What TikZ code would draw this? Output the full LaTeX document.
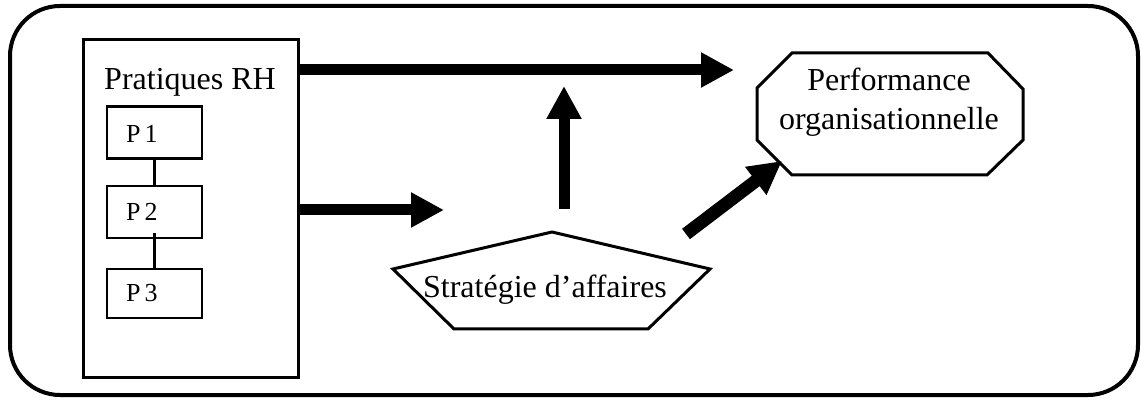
\documentclass[tikz,border=0pt]{standalone}
\usepackage{fontspec}
\setmainfont{Liberation Serif}
\usetikzlibrary{arrows.meta}

\tikzset{
  frame/.style={draw, line width=4pt, rounded corners=50pt},
  holder/.style={draw, line width=3pt, rectangle, inner sep=0pt,
                 minimum width=215pt, minimum height=338pt},
  pbox/.style={draw, line width=2.6pt, rectangle, inner sep=0pt,
               minimum width=95pt, minimum height=52pt},
  plabel/.style={font=\fontsize{26}{30}\selectfont, anchor=base west, inner sep=0pt},
  bigtext/.style={font=\fontsize{32}{38}\selectfont, inner sep=0pt},
  outline/.style={draw, line width=3pt, line join=miter},
  link/.style={line width=2.6pt},
  bigarrow/.style={line width=11pt, -{Triangle[length=33pt, width=33pt]}},
}

\begin{document}
\begin{tikzpicture}[x=1pt, y=-1pt]
\useasboundingbox (0,0) rectangle (1141,403);

% outer rounded frame
\draw[frame] (10,6) rectangle (1138,395);

% HR practices block
\node[holder] (rh) at (190.5,209) {};
\node[bigtext, anchor=base] (rhlabel) at (190,90) {Pratiques RH};
\node[pbox] (p1) at (154.5,132.5) {};
\node[pbox] (p2) at (154.5,212) {};
\node[pbox, minimum height=49pt] (p3) at (154.5,293.5) {};
\node[plabel] (p1t) at (126,143) {P\kern4pt1};
\node[plabel] (p2t) at (126,221) {P\kern4pt2};
\node[plabel] (p3t) at (126,302) {P\kern4pt3};
\draw[link] (p1.south) -- (p2.north);
\draw[link] ([yshift=6pt]p2.south) -- (p3.north);

% business strategy pentagon
\coordinate (sa1) at (552,232);
\coordinate (sa2) at (710,269);
\coordinate (sa3) at (648,329);
\coordinate (sa4) at (454,329);
\coordinate (sa5) at (393,269);
\draw[outline] (sa1) -- (sa2) -- (sa3) -- (sa4) -- (sa5) -- cycle;
\node[bigtext, anchor=base] (strat) at (545,298) {Stratégie d’affaires};

% organisational performance octagon
\coordinate (op1) at (792,53);
\coordinate (op2) at (988,53);
\coordinate (op3) at (1023,89);
\coordinate (op4) at (1023,140);
\coordinate (op5) at (987,175);
\coordinate (op6) at (792,175);
\coordinate (op7) at (757,140);
\coordinate (op8) at (757,88);
\draw[outline] (op1) -- (op2) -- (op3) -- (op4) -- (op5) -- (op6) -- (op7) -- (op8) -- cycle;
\node[bigtext, anchor=base] (perf1) at (889,91) {Performance};
\node[bigtext, anchor=base] (perf2) at (889,130) {organisationnelle};

% connectors
\coordinate (topend) at (734,70);
\coordinate (midend) at (444,210);
\coordinate (upstart) at (564,209);
\coordinate (upend) at (564,86);
\coordinate (diagstart) at (686,234);
\coordinate (diagend) at (782,161);

\draw[bigarrow] (rh.east |- topend) -- (topend);
\draw[bigarrow] (rh.east |- midend) -- (midend);
\draw[bigarrow] (upstart) -- (upend);
\draw[bigarrow, line width=13pt] (diagstart) -- (diagend);
\end{tikzpicture}
\end{document}
